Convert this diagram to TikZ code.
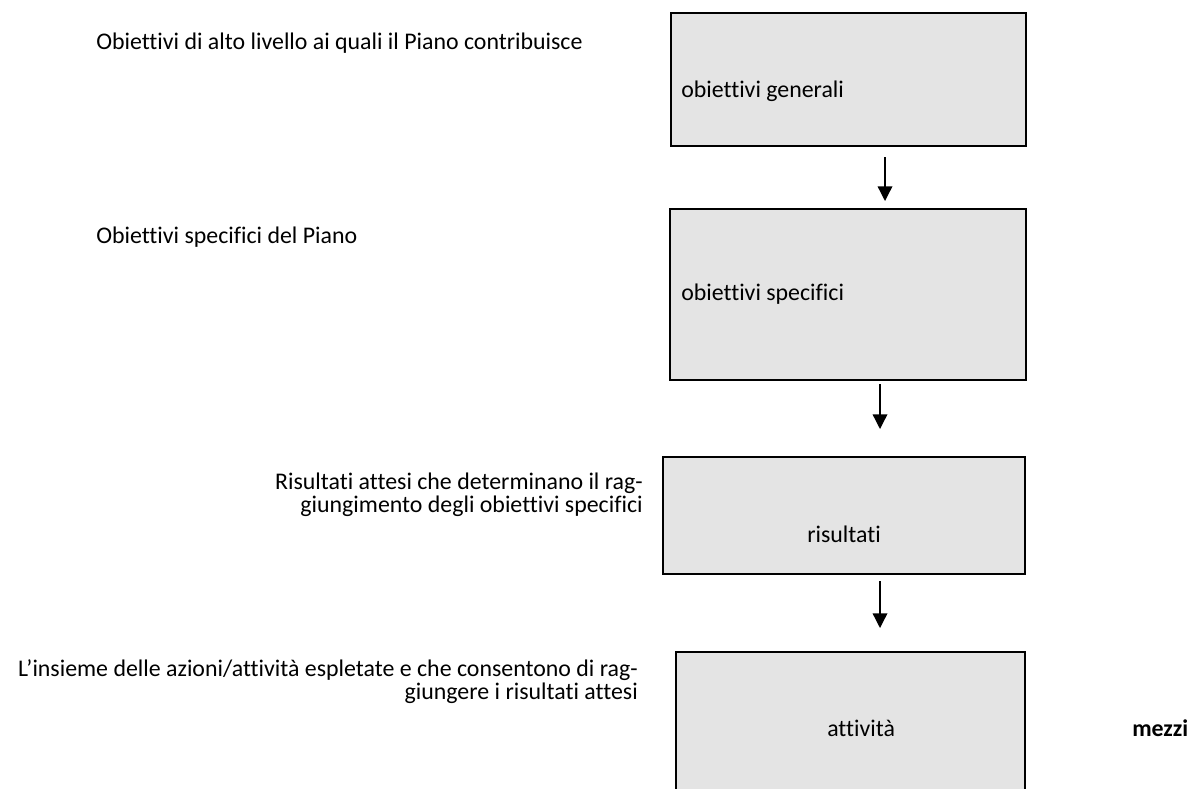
\documentclass[tikz,border=0pt]{standalone}
\usepackage{fontspec}
\setmainfont[Ligatures=NoCommon]{Carlito}
\usetikzlibrary{arrows.meta,fit}
\definecolor{boxgray}{HTML}{E4E4E4}
\tikzset{
  box/.style={draw=black, fill=boxgray, line width=1.5pt, inner sep=0pt},
  txt/.style={inner sep=0pt, font=\fontsize{17.9}{17.25}\selectfont},
  btxt/.style={inner sep=0pt, font=\fontsize{17.9}{17.25}\selectfont\bfseries},
  flow/.style={line width=1pt, -{Triangle[length=11pt,width=11pt]}}
}
\begin{document}
\begin{tikzpicture}[x=0.75pt,y=-0.75pt]
\useasboundingbox (0,0) rectangle (1189,789);
% boxes
\node[box, fit={(671,13) (1026,146)}] (b1) {};
\node[box, fit={(670,209) (1026,380)}] (b2) {};
\node[box, fit={(663,457) (1025,574)}] (b3) {};
\fill[boxgray] (676,652) rectangle (1025,789);
\draw[line width=1.5pt] (676,789) -- (676,652) -- (1025,652) -- (1025,789);
\coordinate (b4) at (850,652);
% box texts
\node[txt, anchor=base west] (t1) at (681,97) {obiettivi generali};
\node[txt, anchor=base west] (t2) at (681,300) {obiettivi specifici};
\node[txt, anchor=base west] (t3) at (807,542) {risultati};
\node[txt, anchor=base west] (t4) at (827,736) {attività};
\node[btxt, anchor=base west] (m) at (1132,736) {mezzi};
% left texts
\node[txt, anchor=base west] (l1) at (96,49) {Obiettivi di alto livello ai quali il Piano contribuisce};
\node[txt, anchor=base west] (l2) at (96,243) {Obiettivi specifici del Piano};
\node[txt, anchor=base east] (l3a) at (643,489) {Risultati attesi che determinano il rag-};
\node[txt, anchor=base east] (l3b) at (643,512) {giungimento degli obiettivi specifici};
\node[txt, anchor=base east] (l4a) at (638,676) {L’insieme delle azioni/attività espletate e che consentono di rag-};
\node[txt, anchor=base east] (l4b) at (638,699) {giungere i risultati attesi};
% arrows
\coordinate (a1s) at (885,157);
\coordinate (a1e) at (885,201);
\coordinate (a2s) at (880,384);
\coordinate (a2e) at (880,429);
\coordinate (a3s) at (880,581);
\coordinate (a3e) at (880,628);
\draw[flow] (a1s) -- (a1e);
\draw[flow] (a2s) -- (a2e);
\draw[flow] (a3s) -- (a3e);
\end{tikzpicture}
\end{document}
